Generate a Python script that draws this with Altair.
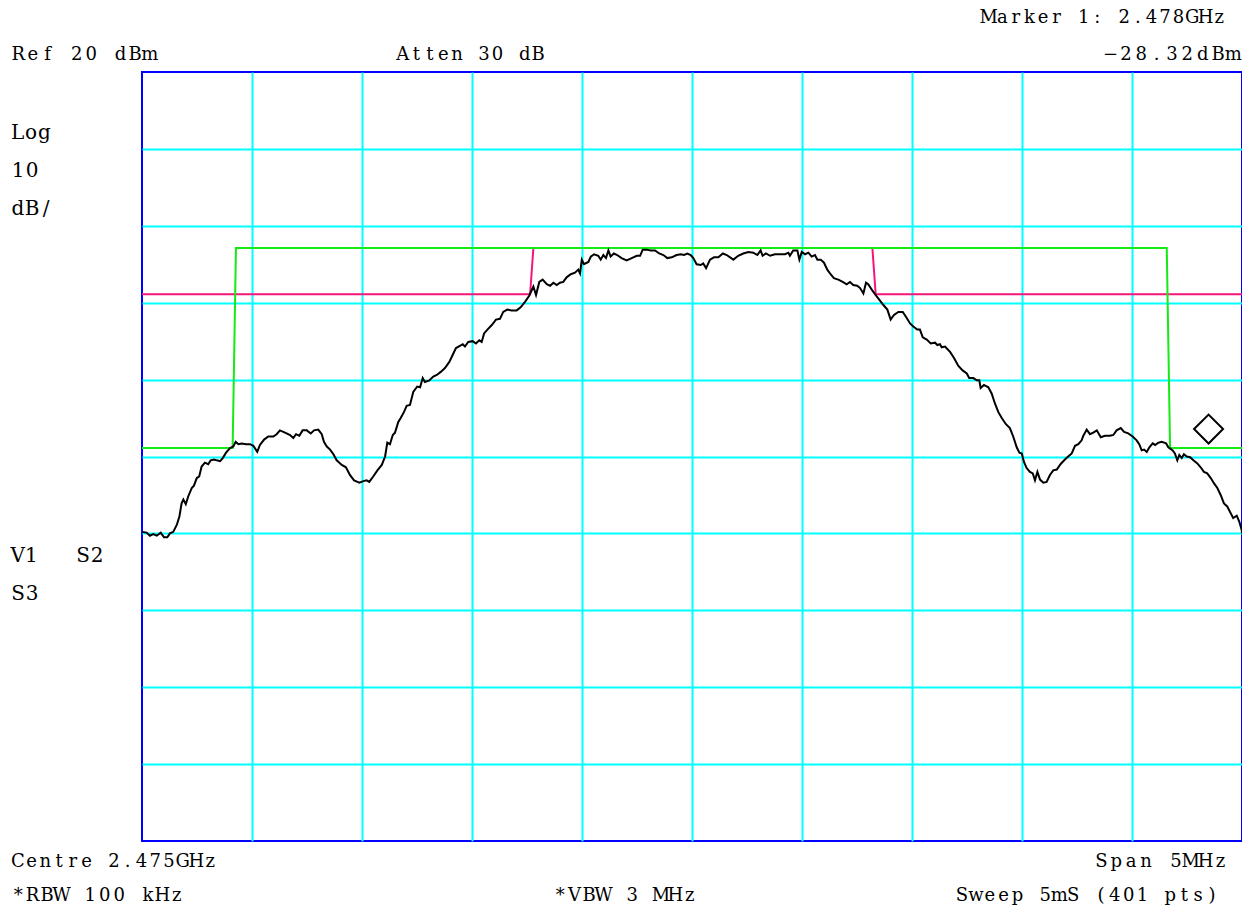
import altair as alt
import pandas as pd

# ---------------- data ----------------
# frequency offset from centre (MHz), centre 2.475 GHz, span 5 MHz
trace_freq = [
    -2.500, -2.479, -2.464, -2.449, -2.433, -2.415, -2.400, -2.385, -2.373, -2.358,
    -2.342, -2.330, -2.320, -2.312, -2.301, -2.290, -2.274, -2.264, -2.251, -2.240,
    -2.229, -2.214, -2.199, -2.188, -2.173, -2.160, -2.145, -2.133, -2.118, -2.100,
    -2.085, -2.074, -2.062, -2.047, -2.027, -2.009, -1.994, -1.976, -1.964, -1.945,
    -1.926, -1.903, -1.888, -1.873, -1.850, -1.827, -1.812, -1.800, -1.785, -1.770,
    -1.751, -1.733, -1.718, -1.699, -1.683, -1.673, -1.660, -1.645, -1.630, -1.615,
    -1.592, -1.573, -1.555, -1.536, -1.512, -1.494, -1.479, -1.467, -1.449, -1.430,
    -1.410, -1.395, -1.385, -1.373, -1.360, -1.350, -1.335, -1.324, -1.309, -1.297,
    -1.282, -1.267, -1.249, -1.236, -1.224, -1.214, -1.194, -1.176, -1.160, -1.142,
    -1.123, -1.103, -1.088, -1.073, -1.055, -1.042, -1.032, -1.017, -0.997, -0.982,
    -0.967, -0.956, -0.945, -0.930, -0.910, -0.891, -0.873, -0.858, -0.840, -0.820,
    -0.797, -0.779, -0.759, -0.740, -0.721, -0.709, -0.694, -0.679, -0.660, -0.645,
    -0.630, -0.615, -0.600, -0.585, -0.570, -0.551, -0.532, -0.517, -0.509, -0.501,
    -0.491, -0.471, -0.460, -0.445, -0.426, -0.415, -0.403, -0.391, -0.380, -0.370,
    -0.355, -0.340, -0.320, -0.297, -0.274, -0.251, -0.236, -0.224, -0.206, -0.188,
    -0.168, -0.149, -0.130, -0.112, -0.092, -0.070, -0.051, -0.036, -0.021, -0.006,
    0.006, 0.021, 0.040, 0.051, 0.064, 0.082, 0.100, 0.120, 0.140, 0.158,
    0.188, 0.210, 0.233, 0.256, 0.279, 0.297, 0.312, 0.321, 0.336, 0.355,
    0.377, 0.400, 0.423, 0.438, 0.445, 0.460, 0.479, 0.488, 0.499, 0.514,
    0.529, 0.544, 0.559, 0.570, 0.585, 0.600, 0.615, 0.630, 0.645, 0.665,
    0.685, 0.703, 0.718, 0.733, 0.751, 0.764, 0.779, 0.791, 0.801, 0.817,
    0.832, 0.851, 0.870, 0.888, 0.903, 0.918, 0.938, 0.958, 0.974, 0.991,
    1.006, 1.024, 1.036, 1.049, 1.067, 1.085, 1.105, 1.115, 1.127, 1.135,
    1.150, 1.173, 1.191, 1.210, 1.230, 1.249, 1.260, 1.279, 1.294, 1.306,
    1.312, 1.327, 1.347, 1.362, 1.377, 1.392, 1.408, 1.427, 1.445, 1.460,
    1.476, 1.488, 1.499, 1.509, 1.521, 1.536, 1.549, 1.559, 1.570, 1.582,
    1.597, 1.612, 1.627, 1.642, 1.658, 1.675, 1.695, 1.710, 1.726, 1.741,
    1.756, 1.771, 1.779, 1.794, 1.809, 1.824, 1.840, 1.858, 1.877, 1.900,
    1.915, 1.930, 1.949, 1.964, 1.983, 2.003, 2.021, 2.033, 2.044, 2.055,
    2.067, 2.079, 2.094, 2.105, 2.120, 2.135, 2.155, 2.165, 2.185, 2.195,
    2.206, 2.215, 2.226, 2.236, 2.249, 2.264, 2.279, 2.297, 2.312, 2.327,
    2.342, 2.358, 2.373, 2.388, 2.403, 2.418, 2.433, 2.449, 2.460, 2.476,
    2.488, 2.499, 2.500,
]
# trace level (dBm)
trace_level = [
    -39.8, -39.9, -40.3, -40.1, -40.3, -39.9, -40.5, -40.5, -40.0, -39.8,
    -38.9, -37.8, -36.1, -35.6, -36.2, -35.2, -34.1, -33.8, -32.8, -32.6,
    -31.3, -30.8, -31.0, -30.5, -30.4, -30.5, -30.6, -30.2, -29.5, -28.9,
    -28.7, -28.1, -28.4, -28.3, -28.4, -28.4, -28.6, -29.4, -28.5, -27.8,
    -27.4, -27.4, -27.1, -26.6, -26.9, -27.2, -27.6, -27.1, -27.3, -26.6,
    -26.6, -27.0, -26.6, -26.5, -27.1, -28.1, -28.7, -29.1, -29.7, -30.5,
    -31.1, -31.4, -32.4, -33.1, -33.4, -33.2, -33.1, -33.3, -32.6, -31.8,
    -31.1, -30.0, -28.2, -28.4, -27.2, -26.9, -25.5, -25.0, -24.2, -23.4,
    -23.3, -21.6, -20.9, -21.0, -19.8, -20.3, -20.1, -19.6, -19.4, -19.0,
    -18.5, -17.7, -16.8, -15.9, -15.6, -15.4, -15.7, -15.1, -15.0, -15.3,
    -14.9, -15.1, -14.0, -13.5, -12.9, -12.2, -12.1, -11.2, -10.9, -11.0,
    -11.0, -10.6, -9.9, -9.1, -7.9, -9.0, -7.3, -7.0, -7.6, -7.8,
    -7.4, -7.7, -7.4, -7.3, -6.7, -6.3, -6.1, -5.7, -6.2, -4.4,
    -5.0, -4.7, -4.0, -3.7, -3.9, -4.4, -3.8, -4.2, -3.2, -4.0,
    -3.6, -3.8, -4.2, -4.5, -4.2, -3.9, -3.9, -3.1, -3.1, -3.2,
    -3.2, -3.6, -3.8, -4.2, -4.1, -3.8, -3.7, -3.8, -3.6, -3.8,
    -4.2, -5.0, -5.1, -4.9, -5.5, -4.4, -4.1, -4.1, -3.6, -3.8,
    -4.4, -3.9, -3.6, -3.4, -3.5, -3.8, -3.2, -3.9, -3.6, -3.9,
    -3.7, -3.7, -3.7, -3.5, -3.9, -3.2, -3.2, -4.4, -3.4, -3.7,
    -3.5, -4.0, -3.8, -4.4, -4.4, -4.8, -5.7, -6.3, -6.8, -7.0,
    -7.3, -7.6, -7.3, -7.7, -7.8, -8.1, -8.8, -7.4, -7.6, -8.3,
    -8.9, -9.6, -10.3, -10.9, -12.2, -11.6, -11.2, -11.2, -11.9, -12.7,
    -13.1, -13.5, -13.5, -14.5, -14.8, -15.3, -15.2, -15.5, -15.4, -15.8,
    -15.7, -16.4, -17.2, -18.2, -18.8, -19.2, -19.8, -19.8, -20.1, -20.1,
    -21.1, -20.7, -21.0, -21.8, -23.1, -24.2, -25.0, -25.8, -26.3, -27.4,
    -28.8, -29.5, -29.6, -30.7, -31.5, -32.0, -32.2, -33.1, -32.0, -33.0,
    -33.4, -33.3, -32.4, -31.8, -31.7, -31.0, -30.4, -30.0, -29.6, -28.6,
    -28.4, -27.9, -27.3, -26.5, -27.1, -26.9, -26.6, -27.5, -27.3, -27.3,
    -27.2, -26.6, -26.3, -26.8, -27.0, -27.4, -27.9, -28.4, -29.2, -29.1,
    -29.4, -28.8, -28.3, -28.5, -28.2, -28.1, -28.3, -28.8, -29.2, -29.6,
    -30.5, -29.8, -30.2, -29.7, -30.0, -30.1, -30.5, -30.9, -31.4, -32.0,
    -32.2, -32.8, -33.5, -34.1, -35.0, -36.1, -36.5, -37.4, -38.0, -37.7,
    -38.5, -39.6, -40.0,
]

# limit lines
green_freq = [-2.5, -2.088, -2.073, 2.158, 2.173, 2.5]
green_level = [-28.9, -28.9, -2.9, -2.9, -28.9, -28.9]
magenta_freq = [-2.5, -0.736, -0.721, 0.820, 0.835, 2.5]
magenta_level = [-8.9, -8.9, -2.9, -2.9, -8.9, -8.9]

# marker
marker_freq = [2.348]
marker_level = [-28.32]

# grid divisions
x_grid = [-2.0, -1.5, -1.0, -0.5, 0.0, 0.5, 1.0, 1.5, 2.0]
y_grid = [10, 0, -10, -20, -30, -40, -50, -60, -70]

# annotation texts: (text, left px, right px, baseline px, font size)
labels = [
    ("Marker 1: 2.478GHz", 982, 1226, 23, 18),
    ("Ref 20 dBm", 11, 157, 60, 18),
    ("Atten 30 dB", 396, 545, 60, 18),
    ("\u221228.32dBm", 1103, 1241, 60, 18),
    ("Log", 11, 51, 139, 20),
    ("10", 11, 39, 177, 20),
    ("dB/", 11, 53, 215, 20),
    ("V1", 11, 38, 562, 20),
    ("S2", 76, 104, 562, 20),
    ("S3", 11, 39, 600, 20),
    ("Centre 2.475GHz", 11, 217, 867, 18),
    ("Span 5MHz", 1094, 1228, 867, 18),
    ("*RBW 100 kHz", 11, 184, 901, 18),
    ("*VBW 3 MHz", 553, 697, 901, 18),
    ("Sweep 5mS (401 pts)", 955, 1219, 901, 18),
]

# ---------------- layout ----------------
W, H = 1100, 769
PX0, PY0 = 142, 72           # plot-area origin on the page
F0, F1 = -2.5, 2.5
L0, L1 = -80.0, 20.0

xscale = alt.Scale(domain=[F0, F1], nice=False, zero=False)
yscale = alt.Scale(domain=[L0, L1], nice=False, zero=False)
xaxis = alt.Axis(values=x_grid, grid=True, gridColor="#00ffff", gridWidth=2,
                 gridOpacity=1, labels=False, ticks=False, domain=False, title="")
yaxis = alt.Axis(values=y_grid, grid=True, gridColor="#00ffff", gridWidth=2,
                 gridOpacity=1, labels=False, ticks=False, domain=False, title="")

X = alt.X("freq:Q", scale=xscale, axis=xaxis)
Y = alt.Y("level:Q", scale=yscale, axis=yaxis)

trace_df = pd.DataFrame({"freq": trace_freq, "level": trace_level})
green_df = pd.DataFrame({"freq": green_freq, "level": green_level})
magenta_df = pd.DataFrame({"freq": magenta_freq, "level": magenta_level})
marker_df = pd.DataFrame({"freq": marker_freq, "level": marker_level})

rows = []
for text, left, right, base, size in labels:
    n = len(text)
    for i, ch in enumerate(text):
        if ch == " ":
            continue
        cx = left + (right - left) * (i + 0.5) / n
        rows.append({
            "freq": F0 + (cx - PX0) / W * (F1 - F0),
            "level": L1 - (base - PY0) / H * (L1 - L0),
            "ch": ch,
            "size": size,
        })
text_df = pd.DataFrame(rows)

magenta = alt.Chart(magenta_df).mark_line(color="#f5157a", strokeWidth=2).encode(x=X, y=Y)
green = alt.Chart(green_df).mark_line(color="#14ea14", strokeWidth=2).encode(x=X, y=Y)
trace = alt.Chart(trace_df).mark_line(color="black", strokeWidth=2).encode(x=X, y=Y)
marker = alt.Chart(marker_df).mark_point(
    shape="diamond", size=841, filled=False, color="black", strokeWidth=2,
    opacity=1, yOffset=-14.5
).encode(x=X, y=Y)

text_small = alt.Chart(text_df[text_df["size"] == 18]).mark_text(
    font="DejaVu Serif", fontSize=18, align="center", baseline="alphabetic",
    color="black"
).encode(x=X, y=Y, text="ch:N")
text_big = alt.Chart(text_df[text_df["size"] == 20]).mark_text(
    font="DejaVu Serif", fontSize=20, align="center", baseline="alphabetic",
    color="black"
).encode(x=X, y=Y, text="ch:N")

chart = alt.layer(magenta, green, trace, marker, text_small, text_big).properties(
    width=W, height=H,
    autosize=alt.AutoSizeParams(type="none"),
    padding={"left": PX0 - 8, "top": PY0 - 8, "right": 0, "bottom": 64},
    background="white",
).configure_view(stroke="#0000ff", strokeWidth=2)

chart.save("out.html", embed_options={"renderer": "svg", "actions": False})
